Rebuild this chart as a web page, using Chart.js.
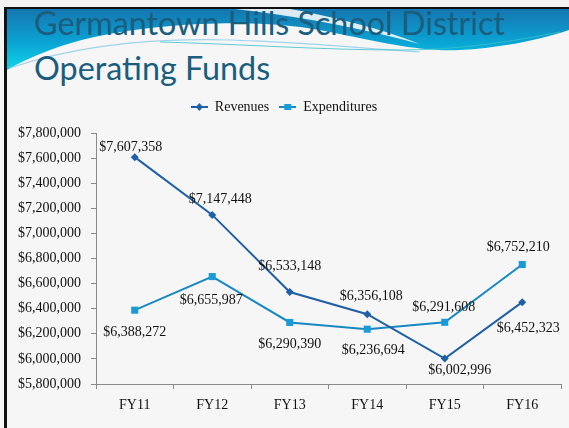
<!DOCTYPE html>
<html>
<head>
<meta charset="utf-8">
<script src="https://cdn.jsdelivr.net/npm/chart.js@4.4.1/dist/chart.umd.min.js"></script>
<style>
html,body{margin:0;padding:0;}
body{width:569px;height:428px;position:relative;overflow:hidden;background:#f6f6f6;}
#deco{position:absolute;left:0;top:0;}
.title{position:absolute;left:34px;font-family:Lato,"Open Sans",sans-serif;font-size:32.3px;color:#1b5d7d;white-space:nowrap;line-height:1;}
#wrap{position:absolute;left:7px;top:90px;width:562px;height:338px;}
</style>
</head>
<body>
<svg id="deco" width="569" height="428">
<defs>
<linearGradient id="band" x1="0" y1="0" x2="0" y2="1">
<stop offset="0" stop-color="#1576b0"/>
<stop offset="0.55" stop-color="#0aa4d4"/>
<stop offset="1" stop-color="#0fd6e6"/>
</linearGradient>
</defs>
<rect x="0" y="0" width="569" height="7" fill="#f2f2f2"/>
<path d="M7,9 L569,9 L569,30 C540,40 500,48 460,50 C420,52 380,42 330,32 C290,24 250,22 200,24 C120,28 60,40 7,70 Z" fill="url(#band)"/>
<path d="M235,9 C300,16 360,28 420,44 C380,28 330,16 290,9 Z" fill="#ffffff" opacity="0.85"/>
<path d="M10,68 C80,44 160,38 230,40 C300,42 360,48 420,52" fill="none" stroke="#9fd4ec" stroke-width="1.2"/>
<path d="M160,42 C240,44 320,50 400,50 C450,50 500,44 560,32" fill="none" stroke="#36c2c8" stroke-width="0.8"/>
<rect x="4" y="7" width="565" height="2" fill="#111"/>
<rect x="4" y="7" width="3" height="421" fill="#111"/>
</svg>
<div class="title" style="top:7px">Germantown Hills School District</div>
<div class="title" style="top:52px">Operating Funds</div>
<div id="wrap"><canvas id="chart"></canvas></div>
<script>
// chart values
const years = ['FY11', 'FY12', 'FY13', 'FY14', 'FY15', 'FY16'];
const revenues = [7607358, 7147448, 6533148, 6356108, 6002996, 6452323];
const expenditures = [6388272, 6655987, 6290390, 6236694, 6291608, 6752210];
const yMin = 5800000;
const yMax = 7800000;
const yStep = 200000;

// label nudges (dx, dy) relative to each point
const revOffsets = [[-4,-10],[8,-16],[0,-26],[4,-18],[15,12],[6,26]];
const expOffsets = [[0,22],[-1,24],[0,22],[6,21],[-1,-15],[-4,-17]];

const revColor = '#1f5fa6';
const expColor = '#1788c2';
const expMarker = '#1a9ad6';
const serif = '"Liberation Serif", "DejaVu Serif", serif';

function money(v){
return '$' + v.toLocaleString('en-US');
}

function legendIcon(color, markerColor, shape){
const c = document.createElement('canvas');
c.width = 17; c.height = 10;
const g = c.getContext('2d');
g.strokeStyle = color; g.lineWidth = 2;
g.beginPath(); g.moveTo(0,5); g.lineTo(17,5); g.stroke();
g.fillStyle = markerColor;
if(shape === 'rect'){
g.fillRect(5,2,7,6);
} else {
g.beginPath(); g.moveTo(8.5,1); g.lineTo(12,5); g.lineTo(8.5,9); g.lineTo(5,5); g.closePath(); g.fill();
}
return c;
}

const pointLabels = {
id:'pointLabels',
afterDatasetsDraw(chart){
const ctx = chart.ctx;
const sets = [[revenues, revOffsets], [expenditures, expOffsets]];
ctx.save();
ctx.font = '14px ' + serif;
ctx.fillStyle = '#111';
ctx.textAlign = 'center';
ctx.textBaseline = 'middle';
sets.forEach((s, i) => {
const meta = chart.getDatasetMeta(i);
meta.data.forEach((pt, j) => {
ctx.fillText(money(s[0][j]), pt.x + s[1][j][0], pt.y + s[1][j][1]);
});
});
ctx.restore();
}
};

// a bit more room between legend and plot
const legendGap = {
id:'legendGap',
beforeLayout(chart){
const lg = chart.legend;
if(lg && !lg._gap){
const fit = lg.fit.bind(lg);
lg.fit = function(){ fit(); this.height += 9; };
lg._gap = true;
}
}
};

const icons = [legendIcon(revColor, revColor, 'diamond'), legendIcon(expColor, expMarker, 'rect')];

new Chart(document.getElementById('chart'),{
type:'line',
data:{
labels:years,
datasets:[{
label:'Revenues',
data:revenues,
borderColor:revColor,
backgroundColor:revColor,
borderWidth:2,
pointStyle:'rectRot',
pointRadius:4,
pointBorderWidth:0,
tension:0
},{
label:'Expenditures',
data:expenditures,
borderColor:expColor,
backgroundColor:expMarker,
borderWidth:2,
pointStyle:'rect',
pointRadius:5,
pointBorderWidth:0,
tension:0
}]
},
options:{
responsive:true,
maintainAspectRatio:false,
animation:false,
layout:{ padding:{ top:0, right:8, bottom:0, left:0 } },
plugins:{
tooltip:{ enabled:false },
legend:{
position:'top',
labels:{
usePointStyle:true,
pointStyleWidth:17,
padding:10,
color:'#111',
font:{ family:serif, size:14 },
generateLabels(chart){
return chart.data.datasets.map((d, i) => ({
text:d.label,
pointStyle:icons[i],
datasetIndex:i,
fontColor:'#111',
lineWidth:0
}));
}
}
}
},
scales:{
x:{
offset:true,
grid:{ display:true, drawOnChartArea:false, offset:true, tickLength:5, color:'#8a8a8a' },
border:{ color:'#8a8a8a', width:1 },
ticks:{ color:'#111', padding:8, font:{ family:serif, size:14 } },
afterFit(scale){ scale.height = 44; }
},
y:{
min:yMin,
max:yMax,
grid:{ display:true, drawOnChartArea:false, tickLength:5, color:'#8a8a8a' },
border:{ color:'#8a8a8a', width:1 },
ticks:{
stepSize:yStep,
color:'#111',
padding:10,
font:{ family:serif, size:14 },
callback:v => money(v)
},
afterFit(scale){ scale.width = 89; }
}
}
},
plugins:[pointLabels, legendGap]
});
</script>
</body>
</html>
